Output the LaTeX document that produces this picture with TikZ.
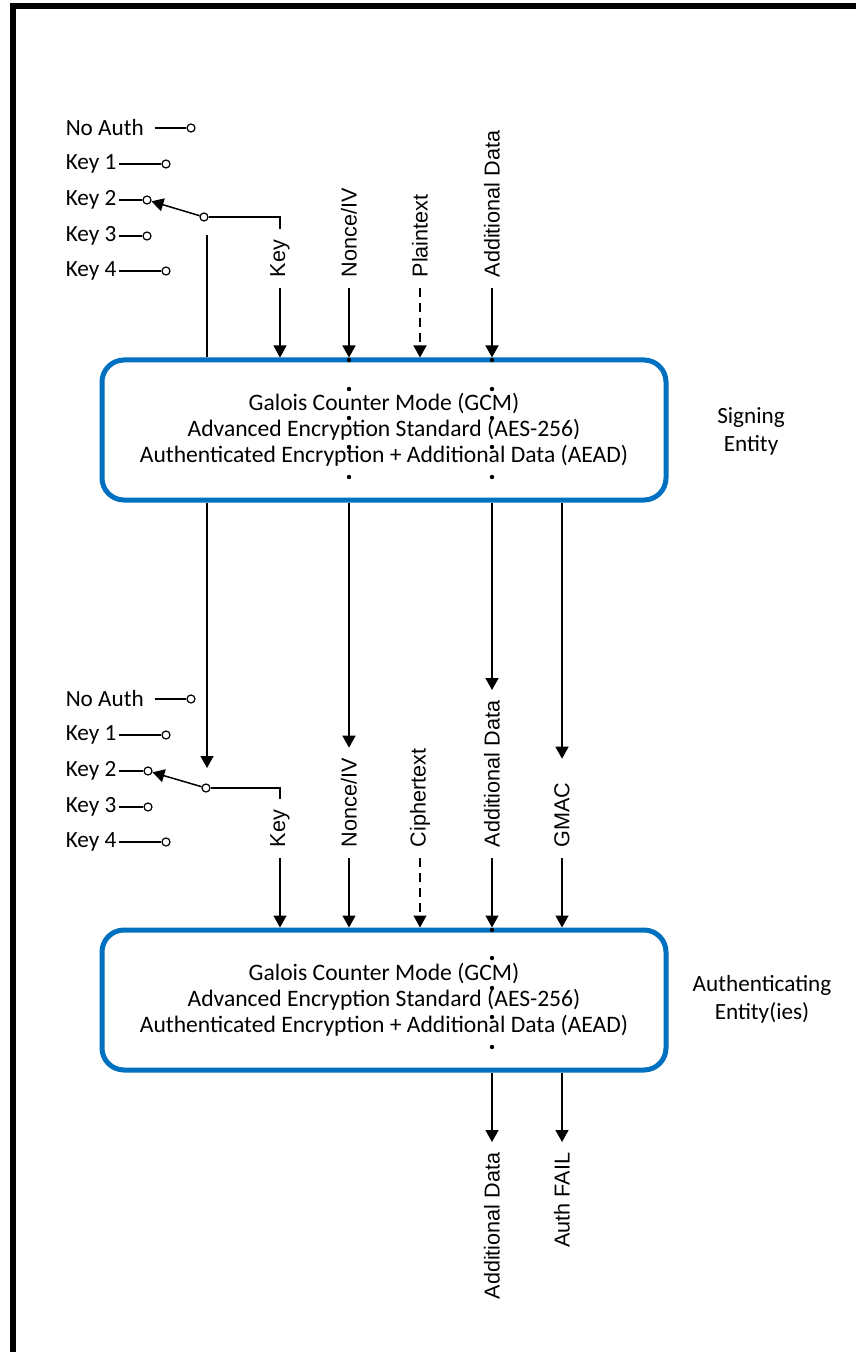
\documentclass[tikz,border=0pt]{standalone}
\usepackage{fontspec}
\setmainfont{Carlito}
\newfontfamily\arialfont{Liberation Sans}
\usepackage{xcolor}
\usetikzlibrary{arrows.meta}
\usetikzlibrary{positioning}
\definecolor{gcmblue}{RGB}{0,112,192}
\tikzset{
    gcm_box/.style = {draw=gcmblue, line width=2.5pt, rounded corners=11pt, minimum width=282pt, minimum height=70pt, align=center, font=\fontsize{11.8}{13}\selectfont},
    sel/.style = {anchor=west, inner sep=0pt, font=\fontsize{11.6}{14}\selectfont},
    contact/.style = {circle, draw=black, fill=white, inner sep=0pt, minimum size=4pt, line width=0.6pt},
    sig_in/.style = {rotate=90, anchor=west, inner xsep=5pt, inner ysep=0pt, font=\arialfont\fontsize{10.8}{12}\selectfont},
    sig_out/.style = {sig_in, anchor=east},
    entity/.style = {align=center, font=\fontsize{11.6}{14}\selectfont},
    joint/.style = {circle, fill=black, inner sep=0pt, minimum size=2.2pt},
    opt_data/.style = {dash pattern=on 4.5pt off 3pt}
}

\begin{document}
\begin{tikzpicture}
    [x=0.5pt, y=-0.5pt, line width=0.75pt,
    >={Triangle[length=6pt,width=6.5pt]}]

    \useasboundingbox (0,0) rectangle (856,1352);
    % frame
    \fill (10,3) rectangle (856,9);
    \fill (10,3) rectangle (16,1352);

    % signing entity
    \node[gcm_box] (sign_box) at (384,430) {Galois Counter Mode (GCM)\\Advanced Encryption Standard (AES-256)\\Authenticated Encryption + Additional Data (AEAD)};
    \node[entity] (sign_ent) at (751,431) {Signing\\Entity};

    % key selector (signing)
    \node[sel] (u_noauth) at (65,128) {No Auth};
    \node[sel] (u_key1) at (65,164) {Key 1};
    \node[sel] (u_key2) at (65,200) {Key 2};
    \node[sel] (u_key3) at (65,236) {Key 3};
    \node[sel] (u_key4) at (65,271) {Key 4};
    \node[contact] (u_c0) at (191,128) {};
    \node[contact] (u_c1) at (166,164) {};
    \node[contact] (u_c2) at (147,200) {};
    \node[contact] (u_c3) at (147,236) {};
    \node[contact] (u_c4) at (166,271) {};
    \node[contact] (u_pivot) at (204,217) {};
    \draw ([xshift=5pt]u_noauth.east) -- (u_c0);
    \draw ([xshift=1pt]u_key1.east) -- (u_c1);
    \draw ([xshift=1pt]u_key2.east) -- (u_c2);
    \draw ([xshift=1pt]u_key3.east) -- (u_c3);
    \draw ([xshift=1pt]u_key4.east) -- (u_c4);
    \draw[->] (u_pivot) -- (u_c2);
    \coordinate (u_tap) at (207,235);
    \draw (u_tap) -- (u_tap |- sign_box.north);

    % signing inputs
    \node[sig_in] (u_key_lbl) at (280,288) {Key};
    \node[sig_in] (u_nonce_lbl) at (349,288) {Nonce/IV};
    \node[sig_in] (u_plain_lbl) at (420,288) {Plaintext};
    \node[sig_in] (u_ad_lbl) at (492,288) {Additional Data};
    \draw (u_pivot.east) -- (u_key_lbl.east |- u_pivot) -- (u_key_lbl.east);
    \draw[->] (u_key_lbl.west) -- (u_key_lbl.west |- sign_box.north);
    \draw[->] (u_nonce_lbl.west) -- (u_nonce_lbl.west |- sign_box.north);
    \draw[->, opt_data] (u_plain_lbl.west) -- (u_plain_lbl.west |- sign_box.north);
    \draw[->] (u_ad_lbl.west) -- (u_ad_lbl.west |- sign_box.north);

    % authenticating entity
    \node[gcm_box] (auth_box) at (384,1000) {Galois Counter Mode (GCM)\\Advanced Encryption Standard (AES-256)\\Authenticated Encryption + Additional Data (AEAD)};
    \node[entity] (auth_ent) at (762,999) {Authenticating\\Entity(ies)};

    % key selector (authenticating)
    \node[sel] (l_noauth) at (65,699) {No Auth};
    \node[sel] (l_key1) at (65,735) {Key 1};
    \node[sel] (l_key2) at (65,771) {Key 2};
    \node[sel] (l_key3) at (65,807) {Key 3};
    \node[sel] (l_key4) at (65,842) {Key 4};
    \node[contact] (l_c0) at (191,699) {};
    \node[contact] (l_c1) at (166,735) {};
    \node[contact] (l_c2) at (148,771) {};
    \node[contact] (l_c3) at (148,807) {};
    \node[contact] (l_c4) at (166,842) {};
    \node[contact] (l_pivot) at (206,788) {};
    \draw ([xshift=5pt]l_noauth.east) -- (l_c0);
    \draw ([xshift=1pt]l_key1.east) -- (l_c1);
    \draw ([xshift=1pt]l_key2.east) -- (l_c2);
    \draw ([xshift=1pt]l_key3.east) -- (l_c3);
    \draw ([xshift=1pt]l_key4.east) -- (l_c4);
    \draw[->] (l_pivot) -- (l_c2);
    \coordinate (l_tap) at (207,768);

    % authenticating inputs
    \node[sig_in] (l_key_lbl) at (280,858) {Key};
    \node[sig_in] (l_nonce_lbl) at (349,858) {Nonce/IV};
    \node[sig_in] (l_cipher_lbl) at (420,858) {Ciphertext};
    \node[sig_in] (l_ad_lbl) at (492,858) {Additional Data};
    \node[sig_in] (l_gmac_lbl) at (562,858) {GMAC};
    \draw (l_pivot.east) -- (l_key_lbl.east |- l_pivot) -- (l_key_lbl.east);
    \draw[->] (l_key_lbl.west) -- (l_key_lbl.west |- auth_box.north);
    \draw[->] (l_nonce_lbl.west) -- (l_nonce_lbl.west |- auth_box.north);
    \draw[->, opt_data] (l_cipher_lbl.west) -- (l_cipher_lbl.west |- auth_box.north);
    \draw[->] (l_ad_lbl.west) -- (l_ad_lbl.west |- auth_box.north);
    \draw[->] (l_gmac_lbl.west) -- (l_gmac_lbl.west |- auth_box.north);

    % signing outputs
    \draw[->] (sign_box.south -| u_tap) -- (l_tap);
    \draw[->] (sign_box.south -| l_nonce_lbl) -- (l_nonce_lbl.east);
    \draw[->] (sign_box.south -| l_ad_lbl) -- (l_ad_lbl.east);
    \draw[->] (sign_box.south -| l_gmac_lbl) -- ([yshift=6.5pt]l_gmac_lbl.east);

    % authenticating outputs
    \node[sig_out] (o_ad_lbl) at (492,1142) {Additional Data};
    \node[sig_out] (o_fail_lbl) at (562,1142) {Auth FAIL};
    \draw[->] (auth_box.south -| o_ad_lbl) -- (o_ad_lbl.east);
    \draw[->] (auth_box.south -| o_fail_lbl) -- (o_fail_lbl.east);

    % glue points
    \foreach \y in {360,389,418,447,477} {
        \node[joint] (u_jn\y) at (349,\y) {};
        \node[joint] (u_ja\y) at (492,\y) {};
    }
    \foreach \y in {930,958,988,1017,1047} {
        \node[joint] (l_ja\y) at (492,\y) {};
    }
\end{tikzpicture}
\end{document}
